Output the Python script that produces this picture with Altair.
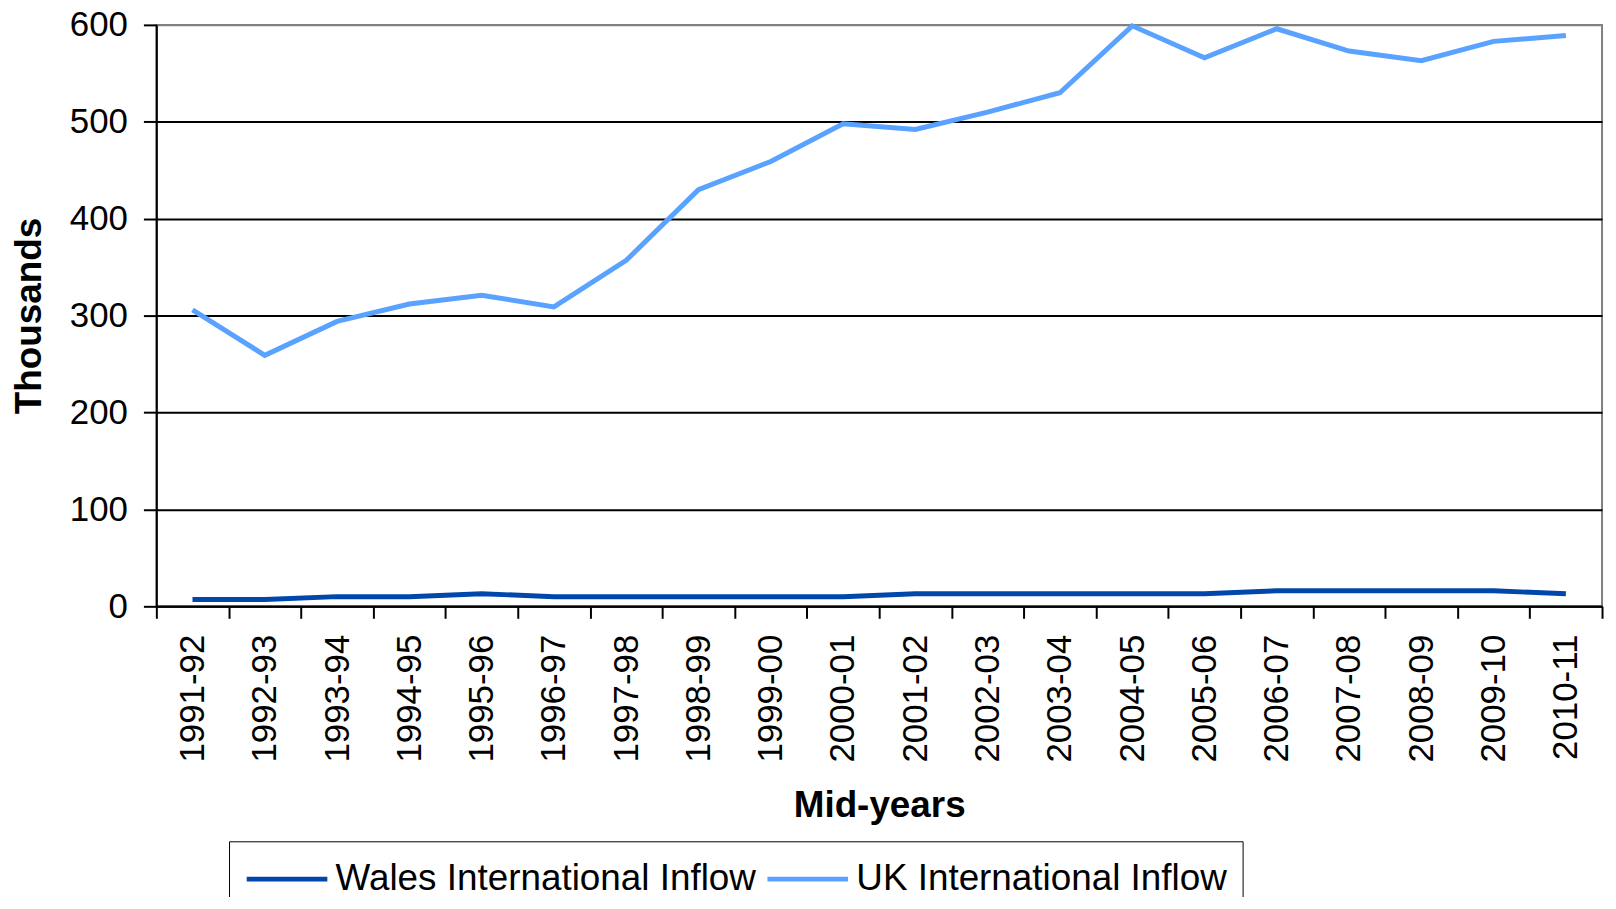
import altair as alt
import pandas as pd

years = ["1991-92", "1992-93", "1993-94", "1994-95", "1995-96", "1996-97", "1997-98",
         "1998-99", "1999-00", "2000-01", "2001-02", "2002-03", "2003-04", "2004-05",
         "2005-06", "2006-07", "2007-08", "2008-09", "2009-10", "2010-11"]
wales = [7, 7, 10, 10, 13, 10, 10, 10, 10, 10, 13, 13, 13, 13, 13, 16, 16, 16, 16, 13]
uk = [306, 259, 294, 312, 321, 309, 357, 430, 459, 498, 492, 510, 530, 599,
      566, 596, 573, 563, 583, 589]
series_names = ["Wales International Inflow", "UK International Inflow"]
series_colors = ["#0047AB", "#5AA2FF"]

rows = []
for name, vals in zip(series_names, [wales, uk]):
    for y, v in zip(years, vals):
        rows.append({"year": y, "series": name, "value": v})
df = pd.DataFrame(rows)

FONT = "Liberation Sans"

chart = alt.Chart(df).mark_line(strokeWidth=5).encode(
    x=alt.X("year:N", sort=years, bandPosition=0.5,
            scale=alt.Scale(type="band", paddingInner=0, paddingOuter=0),
            axis=alt.Axis(title="Mid-years", tickBand="extent", labelAngle=-90,
                          labelFontSize=35, labelFont=FONT, labelColor="black",
                          labelPadding=16, tickSize=12, tickWidth=2, tickColor="black",
                          domainColor="black", domainWidth=2, grid=False,
                          titleFont=FONT, titleFontSize=37, titleFontWeight="bold",
                          titleColor="black", titlePadding=26)),
    y=alt.Y("value:Q", scale=alt.Scale(domain=[0, 600], nice=False),
            axis=alt.Axis(title="Thousands", values=[0, 100, 200, 300, 400, 500, 600],
                          labelFontSize=35, labelFont=FONT, labelColor="black",
                          labelPadding=16, tickSize=13, tickWidth=2, tickColor="black",
                          domainColor="black", domainWidth=2,
                          grid=True, gridWidth=2,
                          gridColor={"condition": {"test": "datum.value === 600", "value": "#808080"},
                                     "value": "black"},
                          titleFont=FONT, titleFontSize=37, titleFontWeight="bold",
                          titleColor="black", titlePadding=21)),
    color=alt.Color("series:N", sort=series_names,
                    scale=alt.Scale(domain=series_names, range=series_colors),
                    legend=alt.Legend(title=None, orient="none", legendX=73, legendY=820,
                                      direction="horizontal", symbolType="M-1,0H3",
                                      symbolStrokeWidth=5, symbolSize=1640,
                                      labelFont=FONT, labelFontSize=37, labelColor="black",
                                      labelOffset=46, strokeColor="black", padding=15,
                                      columnPadding=0, labelLimit=700)),
).properties(
    width=1452, height=584,
    autosize=alt.AutoSizeParams(type="none"),
    padding={"left": 149, "top": 15, "right": 6, "bottom": 290},
).configure_view(stroke="#808080", strokeWidth=2)

chart.save("out.html", embed_options={"renderer": "svg", "actions": False})
